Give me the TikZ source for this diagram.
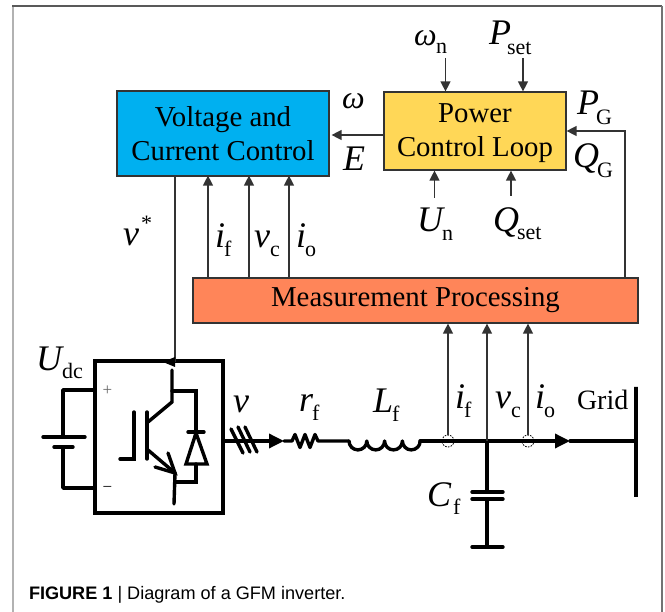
\documentclass[tikz,border=0pt]{standalone}
\usepackage{fontspec}
\setmainfont{Liberation Serif}
\newfontfamily\capfont{Liberation Sans}
\usetikzlibrary{arrows.meta}
\definecolor{vccblue}{HTML}{00B0F0}
\definecolor{pclyellow}{HTML}{FFD757}
\definecolor{mporange}{HTML}{FF8559}
\definecolor{linegrey}{HTML}{333333}
\newcommand{\bigf}{\fontsize{36}{36}\selectfont\itshape}
\newcommand{\omf}{\fontsize{32}{32}\selectfont\itshape}
\newcommand{\subf}{\fontsize{22}{22}\selectfont}
\newcommand{\symb}[7]{%
  \node[lab] (#1) at (#2,#3) {\bigf #4};
  \node[lab] (#1s) at (#5,#6) {\subf #7};}
\tikzset{
  x=1pt,y=-1pt,
  lab/.style={anchor=base west,inner sep=0pt,outer sep=0pt},
  block/.style={draw=linegrey,line width=1.2pt,inner sep=0pt,align=center,
    font=\fontsize{28.8}{34}\selectfont},
  sig/.style={draw=linegrey,line width=1.3pt},
  sigarrow/.style={sig,-{Triangle[length=10pt,width=10pt]}},
  power/.style={draw=black,line width=3.4pt,line cap=round,line join=round},
  powerarrow/.style={power,-{Triangle[length=15pt,width=14pt]}},
  thick sw/.style={draw=black,line width=3.4pt,line cap=round,line join=miter},
  tap/.style={draw=black,line width=.8pt,dash pattern=on 1.6pt off 1.2pt,fill=none},
}
\begin{document}
\begin{tikzpicture}
\useasboundingbox (0,0) rectangle (665,612);
% frame
\draw[black!30,line width=2pt] (13,612) -- (13,6);
\draw[black!65,line width=1.2pt] (12,6) -- (662,6);
\draw[black!55,line width=1.2pt] (662,6) -- (662,612);
% blocks
\node[block,fill=vccblue,minimum width=212pt,minimum height=85pt] (vcc) at (223,133.5) {Voltage and\\Current Control};
\node[block,fill=pclyellow,minimum width=182pt,minimum height=78pt] (pcl) at (475,131) {\rule{0pt}{24pt}Power\\Control Loop};
\node[block,fill=mporange,minimum width=445pt,minimum height=45pt] (mp) at (415.5,300.5) {Measurement Processing};
\node[draw=black,line width=3.4pt,minimum width=128pt,minimum height=152pt,inner sep=0pt] (inv) at (159,437) {};
% helper coordinates
\coordinate (xa) at (208,0);
\coordinate (xb) at (249,0);
\coordinate (xc) at (289,0);
\coordinate (xd) at (175,0);
\coordinate (xh) at (625,0);
\coordinate (ypg) at (0,131);
\coordinate (yv) at (0,362);
\coordinate (tipv) at (163,362);
\coordinate (wn) at (445.5,58);
\coordinate (ps) at (523,58);
\coordinate (un) at (434.5,198);
\coordinate (qs) at (511,196);
% signal connectors
\draw[sigarrow] (pcl.west |- 0,135) -- ([xshift=2pt]vcc.east |- 0,135);
\draw[sigarrow] (mp.north -| xa) -- ([yshift=1pt]vcc.south -| xa);
\draw[sigarrow] (mp.north -| xb) -- ([yshift=1pt]vcc.south -| xb);
\draw[sigarrow] (mp.north -| xc) -- ([yshift=1pt]vcc.south -| xc);
\draw[sigarrow] (wn) -- (pcl.north -| wn);
\draw[sigarrow] (ps) -- (pcl.north -| ps);
\draw[sigarrow] (un) -- (pcl.south -| un);
\draw[sigarrow] (qs) -- (pcl.south -| qs);
\draw[sigarrow] (mp.north -| xh) -- (xh |- ypg) -- (pcl.east |- ypg);
\draw[sig] (vcc.south -| xd) -- (xd |- yv);
\draw[draw=none,fill=black] (tipv) -- ++(12,-5) -- ++(0,10) -- cycle;
% left side: battery
\coordinate (bp) at (63,437);
\coordinate (bn) at (63,447);
\coordinate (bat1) at (43,437);
\coordinate (bat2) at (85,437);
\coordinate (bat3) at (54,447);
\coordinate (bat4) at (73,447);
\draw[power] (inv.west |- 0,390) -- (63,390) -- (bp);
\draw[power] (bn) -- (63,488) -- (inv.west |- 0,488);
\draw[power] (bat1) -- (bat2);
\draw[power] (bat3) -- (bat4);
\node[lab,anchor=center,text=black!60,font=\fontsize{17}{17}\selectfont] (plus) at (107.5,391) {+};
\node[lab,anchor=center,text=black,font=\fontsize{17}{17}\selectfont] (minus) at (107.5,489) {\textminus};
% IGBT
\draw[thick sw] (172,370) -- (172,402) -- (148,422);
\draw[thick sw] (147,412) -- (147,459);
\draw[thick sw] (134,412) -- (134,459) -- (120,459);
\draw[thick sw] (148,450) -- (175,473) -- (174,504);
\draw[thick sw] (168,453) -- (175,473) -- (155,467);
% diode
\draw[thick sw] (172,391) -- (196,391) -- (196,432);
\draw[thick sw] (188,432) -- (204,432);
\draw[thick sw] (196,433) -- (186,464) -- (207,464) -- cycle;
\draw[thick sw] (196,464) -- (196,482) -- (175,482);
% output line
\coordinate (rl) at (284,441);
\coordinate (rr) at (321,441);
\coordinate (ll) at (349,441);
\coordinate (lr) at (420,441);
\coordinate (jn) at (487,441);
\coordinate (capa) at (487,492);
\coordinate (capb) at (487,499);
\coordinate (gnd) at (487,547);
\draw[powerarrow] (inv.east |- rl) -- (rl);
\draw[thick sw] (231,429) -- (243,453) (238,427) -- (250,452) (245,427) -- (257,452);
% resistor
\draw[power] (rl) -- (292,441) -- (295,434.5) -- (300,447.5) -- (305,434.5) -- (310,447.5) -- (315,434.5) -- (318,441) -- (rr) -- (ll);
% inductor
\draw[power] (ll) arc[start angle=180,end angle=0,radius=8.9] arc[start angle=180,end angle=0,radius=8.9] arc[start angle=180,end angle=0,radius=8.9] arc[start angle=180,end angle=0,radius=8.9];
% to the grid
\node[draw=black,line width=3.4pt,minimum width=0pt,minimum height=110pt,inner sep=0pt,outer sep=0pt] (grid) at (636,442) {};
\draw[powerarrow] (lr) -- (570,441);
\draw[power] (570,441) -- (grid.center |- jn);
\draw[power] (jn) -- (capa);
\draw[power] (capb) -- (gnd);
\draw[power] (472,492) -- (503,492);
\draw[power] (472,499) -- (503,499);
\draw[power] (472,547) -- (503,547);
% taps
\node[tap,circle,minimum size=12pt,inner sep=0pt] (tf) at (448,441) {};
\node[tap,circle,minimum size=12pt,inner sep=0pt] (to) at (528,441) {};
\draw[sigarrow] (tf.north) -- (mp.south -| tf);
\draw[sigarrow] (jn) -- (mp.south -| jn);
\draw[sigarrow] (to.north) -- (mp.south -| to);
% labels
\symb{lUdc}{36}{371}{U}{62}{379}{dc}
\symb{lrf}{299}{412}{r}{312}{421}{f}
\symb{lLf}{373}{413}{L}{392}{422}{f}
\symb{lif}{455}{409}{i}{464}{418}{f}
\symb{lvc}{495}{409}{v}{511}{418}{c}
\symb{lio}{535}{409}{i}{544}{418}{o}
\symb{lCf}{427}{507}{C}{453}{515}{f}
\symb{uif}{215}{248}{i}{224}{257}{f}
\symb{uvc}{254}{248}{v}{270}{257}{c}
\symb{uio}{296}{248}{i}{305}{257}{o}
\node[lab] (lwn) at (414,46) {\omf ω};
\node[lab] (lwns) at (436,54) {\subf n};
\symb{lPs}{489}{45}{P}{507}{55}{set}
\symb{lUn}{417}{232}{U}{442}{241}{n}
\symb{lQs}{493}{232}{Q}{517}{240}{set}
\symb{lPG}{577}{115}{P}{596}{125}{G}
\symb{lQG}{573}{168}{Q}{597}{178}{G}
\node[lab] (lv) at (233,413) {\bigf v};
\node[lab] (lvs) at (123,246) {\bigf v};
\node[lab] (lstar) at (141,231) {\subf *};
\node[lab] (lom) at (342,109) {\omf ω};
\node[lab] (lE) at (343,171) {\bigf E};
\node[lab] (lgrid) at (577,410) {\fontsize{28}{28}\selectfont Grid};
\node[lab] (cap) at (29,600) {\capfont\fontsize{18.1}{18.1}\selectfont\textbf{FIGURE 1} | Diagram of a GFM inverter.};
\end{tikzpicture}
\end{document}
